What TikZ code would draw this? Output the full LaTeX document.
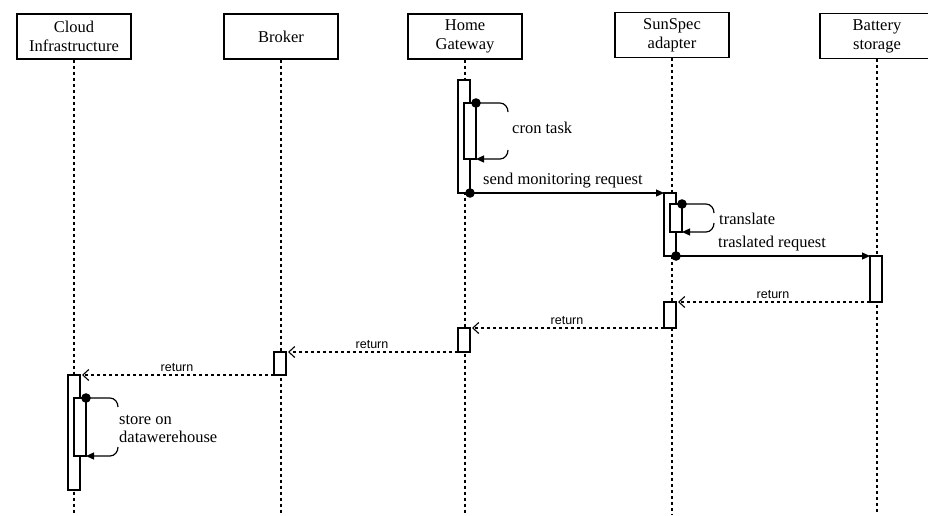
\documentclass[tikz,border=0pt]{standalone}
\usepackage{fontspec}
\setmainfont{Liberation Serif}
\setsansfont{Liberation Sans}
\usetikzlibrary{positioning, calc, arrows.meta}

\begin{document}
\begin{tikzpicture}[
  x=1pt, y=-1pt,
  font=\rmfamily\fontsize{16.5}{19}\selectfont,
  >={Triangle[length=8pt,width=7pt]},
  head/.style={draw=black, line width=1.2pt, fill=white,
    minimum width=114pt, minimum height=45pt, inner sep=1pt, align=center},
  lifeline/.style={black, line width=1.1pt, dash pattern=on 3pt off 3pt},
  actbox/.style={draw=black, line width=1.2pt, fill=white,
    minimum width=12pt, inner sep=0pt, outer sep=0pt, anchor=north},
  msg/.style={black, line width=1.2pt, ->},
  retmsg/.style={black, line width=1.1pt, dash pattern=on 3.5pt off 2.5pt,
    shorten >=2pt, -{Straight Barb[length=6pt,width=11pt]}},
  retlbl/.style={font=\sffamily\fontsize{12.5}{14}\selectfont,
    midway, above, inner sep=2.5pt},
  lbl/.style={anchor=west, inner sep=0pt, align=left},
]

% ---------- page ----------
\fill[white] (0,0) rectangle (928,515);
\useasboundingbox (0,0) rectangle (928,515);
\coordinate (bottom) at (0,515);

% ---------- lifeline heads ----------
\node[head] (cloud)   at (74,36.5)  {Cloud\\Infrastructure};
\node[head] (broker)  at (281,36.5) {Broker};
\node[head] (gateway) at (465,36.5) {Home\\Gateway};
\node[head] (sunspec) at (672,35)   {SunSpec\\adapter};
\node[head] (battery) at (877,36)   {Battery\\storage};

\foreach \h in {cloud, broker, gateway, sunspec, battery}
  \draw[lifeline] (\h.south) -- (\h.south |- bottom);

% ---------- activations ----------
\node[actbox, minimum height=113pt] (gwMain)  at (464,80)  {};
\node[actbox, minimum height=56pt]  (gwCron)  at (470,103) {};
\node[actbox, minimum height=63pt]  (ssMain)  at (670,193) {};
\node[actbox, minimum height=28pt]  (ssTrans) at (676,204) {};
\node[actbox, minimum height=46pt]  (batAct)  at (876,256) {};
\node[actbox, minimum height=26pt]  (ssRet)   at (670,302) {};
\node[actbox, minimum height=24pt]  (gwRet)   at (464,328) {};
\node[actbox, minimum height=23pt]  (brAct)   at (280,352) {};
\node[actbox, minimum height=115pt] (clMain)  at (74,375)  {};
\node[actbox, minimum height=58pt]  (clStore) at (80,398)  {};

% ---------- self calls ----------
\foreach \b in {gwCron, ssTrans, clStore} {
  \draw[black, line width=1.2pt]
    (\b.north east) -- ++(24,0) to[out=0,in=90] ++(8,9);
  \draw[black, line width=1.2pt, ->]
    ($(\b.south east)+(32,-9)$) to[out=-90,in=0] ++(-8,9) -- (\b.south east);
  \fill (\b.north east) circle (4.8pt);
}
\node[lbl] (cronLbl)  at (512,128) {cron task};
\node[lbl] (transLbl) at (719,219) {translate};
\node[lbl, font=\rmfamily\fontsize{16.5}{18}\selectfont] (storeLbl) at (119,429)
  {store on\\datawerehouse};

% ---------- requests ----------
\draw[msg] (gwMain.south east) -- (ssMain.north west);
\fill (gwMain.south east) circle (4.8pt);
\node[lbl] (sendLbl) at (483,181) {send monitoring request};

\draw[msg] (ssMain.south east) -- (batAct.north west);
\fill (ssMain.south east) circle (4.8pt);
\node[lbl] (trLbl) at (718,244) {traslated request};

% ---------- returns ----------
\draw[retmsg] (batAct.south west) -- (ssRet.north east)  node[retlbl] {return};
\draw[retmsg] (ssRet.south west)  -- (gwRet.north east)  node[retlbl] {return};
\draw[retmsg] (gwRet.south west)  -- (brAct.north east)  node[retlbl] {return};
\draw[retmsg] (brAct.south west)  -- (clMain.north east) node[retlbl] {return};

\end{tikzpicture}
\end{document}
